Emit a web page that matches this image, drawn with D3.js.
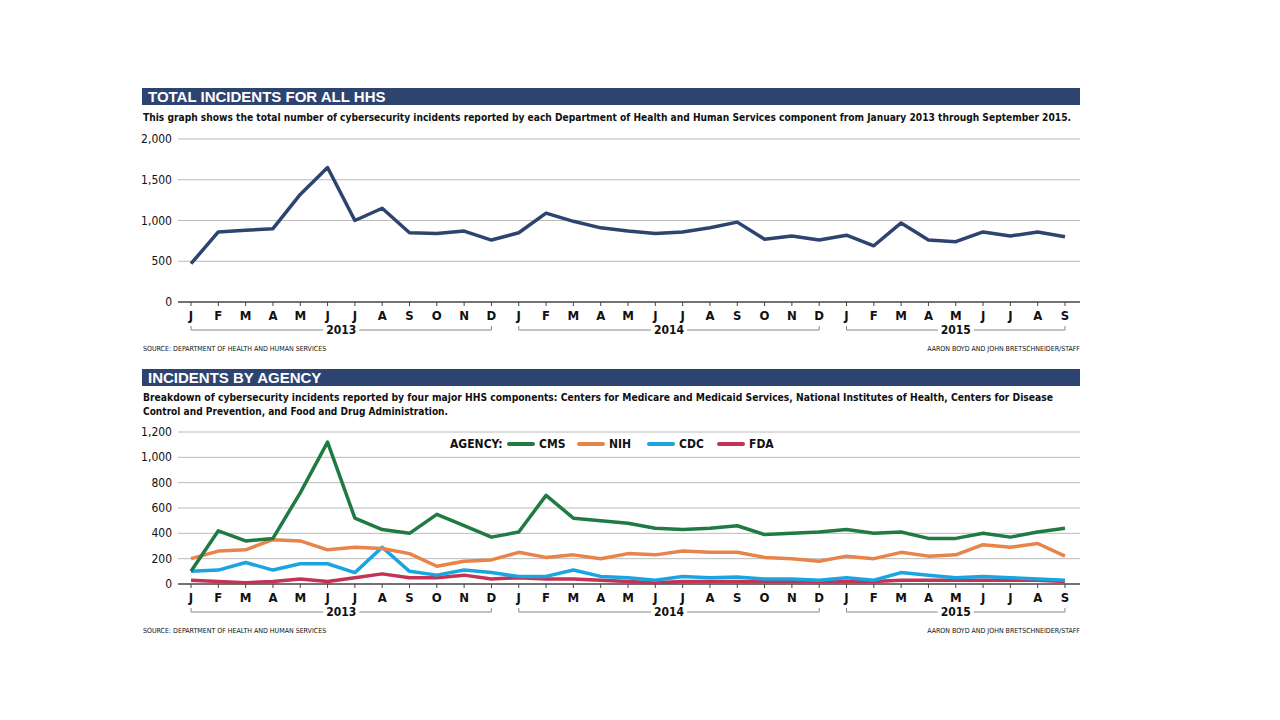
<!DOCTYPE html>
<html>
<head>
<meta charset="utf-8">
<script src="https://cdnjs.cloudflare.com/ajax/libs/d3/7.8.5/d3.min.js"></script>
<style>
  body { margin: 0; background: #fff; }
  svg text { font-family: "Liberation Sans Narrow", "Arial Narrow", "DejaVu Sans Condensed", sans-serif; fill: #111; }
</style>
</head>
<body>
<div class="chart"></div>
<script>
// month labels, Jan 2013 .. Sep 2015
var months = ["J","F","M","A","M","J","J","A","S","O","N","D",
              "J","F","M","A","M","J","J","A","S","O","N","D",
              "J","F","M","A","M","J","J","A","S"];
var years = [{label: "2013", from: 0, to: 11}, {label: "2014", from: 12, to: 23}, {label: "2015", from: 24, to: 32}];

var totalHHS = [470, 860, 880, 900, 1320, 1650, 1000, 1150, 850, 840, 870, 760,
                850, 1090, 990, 910, 870, 840, 860, 910, 980, 770, 810, 760,
                820, 690, 970, 760, 740, 860, 810, 860, 800];

var cms = [100, 420, 340, 360, 720, 1120, 520, 430, 400, 550, 460, 370,
           410, 700, 520, 500, 480, 440, 430, 440, 460, 390, 400, 410,
           430, 400, 410, 360, 360, 400, 370, 410, 440];
var nih = [200, 260, 270, 350, 340, 270, 290, 280, 240, 140, 180, 190,
           250, 210, 230, 200, 240, 230, 260, 250, 250, 210, 200, 180,
           220, 200, 250, 220, 230, 310, 290, 320, 220];
var cdc = [100, 110, 170, 110, 160, 160, 90, 290, 100, 70, 110, 90,
           60, 60, 110, 60, 50, 30, 60, 50, 55, 40, 40, 30,
           50, 30, 90, 70, 50, 60, 50, 40, 30];
var fda = [30, 20, 10, 20, 40, 20, 50, 80, 50, 50, 70, 40,
           50, 40, 40, 30, 20, 10, 20, 20, 20, 20, 20, 20,
           20, 20, 30, 30, 30, 30, 30, 30, 20];

var agencies = [
  {name: "CMS", values: cms, color: "#1f7a43"},
  {name: "NIH", values: nih, color: "#e8834a"},
  {name: "CDC", values: cdc, color: "#1aa5e0"},
  {name: "FDA", values: fda, color: "#c23355"}
];

var navy = "#2d4470";
var svg = d3.select(".chart").append("svg").attr("width", 1280).attr("height", 720);

var x = d3.scalePoint().domain(d3.range(months.length)).range([191, 1065]);

function panel(o) {
  // header bar
  svg.append("rect").attr("x", 142).attr("y", o.barY).attr("width", 938).attr("height", 17).attr("fill", navy);
  svg.append("text").attr("x", 148).attr("y", o.barY + 14).text(o.title)
    .style("fill", "#fff").style("font-family", "'Liberation Sans', Arial, sans-serif")
    .style("font-weight", "bold").style("font-size", "15px");
  o.sub.forEach(function(s, i) {
    svg.append("text").attr("x", 143).attr("y", o.subY + i * 14).text(s[0])
      .attr("textLength", s[1]).attr("lengthAdjust", "spacingAndGlyphs")
      .style("font-size", "11px").style("font-weight", "bold");
  });

  var y = d3.scaleLinear().domain([0, o.max]).range([o.y0, o.y1]);
  var g = svg.append("g");
  // gridlines
  g.selectAll(".grid").data(o.ticks).enter().append("line")
    .attr("x1", 178).attr("x2", 1080)
    .attr("y1", d => y(d)).attr("y2", d => y(d))
    .attr("stroke", d => d === 0 ? "#444" : "#bbb").attr("stroke-width", d => d === 0 ? 1.5 : 1);
  g.selectAll(".yl").data(o.ticks).enter().append("text")
    .attr("x", 172).attr("y", d => y(d) + 4).attr("text-anchor", "end")
    .style("font-size", "12px").text(d3.format(","));
  // month ticks
  g.selectAll(".mt").data(months).enter().append("line")
    .attr("x1", (d, i) => x(i)).attr("x2", (d, i) => x(i))
    .attr("y1", o.y0).attr("y2", o.y0 + 4).attr("stroke", "#444");
  g.selectAll(".ml").data(months).enter().append("text")
    .attr("x", (d, i) => x(i)).attr("y", o.y0 + 18).attr("text-anchor", "middle")
    .style("font-size", "13px").style("font-weight", "bold").text(d => d);
  // year brackets
  years.forEach(function(yr) {
    var x1 = x(yr.from), x2 = x(yr.to), by = o.y0 + 28, mid = (x1 + x2) / 2;
    g.append("path").attr("d", `M${x1},${by - 4}V${by}H${mid - 18}M${mid + 18},${by}H${x2}V${by - 4}`)
      .attr("fill", "none").attr("stroke", "#888");
    g.append("text").attr("x", mid).attr("y", by + 4).attr("text-anchor", "middle")
      .style("font-size", "12px").style("font-weight", "bold").text(yr.label);
  });
  svg.append("text").attr("x", 143).attr("y", o.y0 + 49).style("font-size", "7px").text("SOURCE: DEPARTMENT OF HEALTH AND HUMAN SERVICES");
  svg.append("text").attr("x", 1080).attr("y", o.y0 + 49).attr("text-anchor", "end").style("font-size", "7px").text("AARON BOYD AND JOHN BRETSCHNEIDER/STAFF");

  var line = d3.line().x((d, i) => x(i)).y(d => y(d));
  o.series.forEach(function(s) {
    g.append("path").datum(s.values).attr("d", line).attr("fill", "none")
      .attr("stroke", s.color).attr("stroke-width", 3.5).attr("stroke-linejoin", "round");
  });
  return y;
}

panel({
  barY: 88, title: "TOTAL INCIDENTS FOR ALL HHS", subY: 121,
  sub: [["This graph shows the total number of cybersecurity incidents reported by each Department of Health and Human Services component from January 2013 through September 2015.", 928]],
  max: 2000, ticks: [0, 500, 1000, 1500, 2000], y0: 302, y1: 139,
  series: [{values: totalHHS, color: navy}]
});

panel({
  barY: 369, title: "INCIDENTS BY AGENCY", subY: 401,
  sub: [["Breakdown of cybersecurity incidents reported by four major HHS components: Centers for Medicare and Medicaid Services, National Institutes of Health, Centers for Disease", 910],
        ["Control and Prevention, and Food and Drug Administration.", 305]],
  max: 1200, ticks: [0, 200, 400, 600, 800, 1000, 1200], y0: 584, y1: 432,
  series: agencies.slice().reverse()
});

// legend
var leg = svg.append("g");
leg.append("text").attr("x", 450).attr("y", 448).style("font-size", "12px").style("font-weight", "bold").text("AGENCY:");
agencies.forEach(function(a, i) {
  var lx = 509 + i * 70;
  leg.append("line").attr("x1", lx).attr("x2", lx + 24).attr("y1", 444).attr("y2", 444)
    .attr("stroke", a.color).attr("stroke-width", 4).attr("stroke-linecap", "round");
  leg.append("text").attr("x", lx + 30).attr("y", 448).style("font-size", "12px").style("font-weight", "bold").text(a.name);
});
</script>
</body>
</html>
